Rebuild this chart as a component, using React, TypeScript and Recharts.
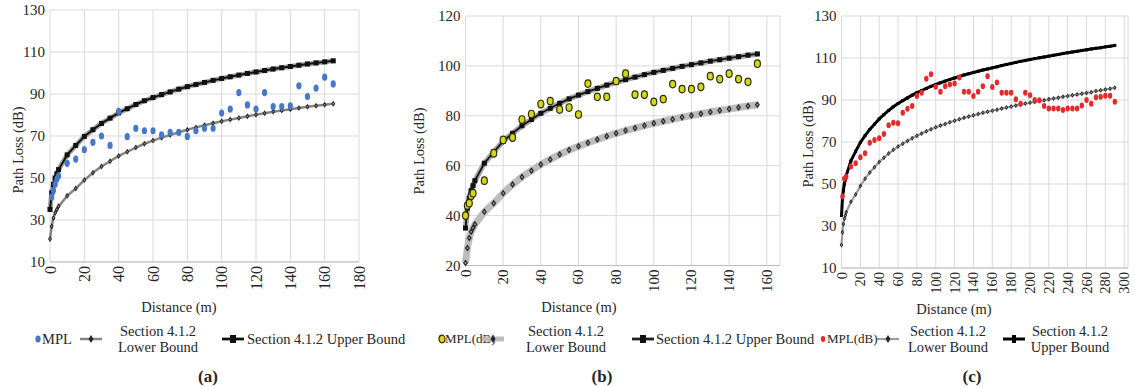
import { CartesianGrid, ComposedChart, Line, Scatter, XAxis, YAxis } from 'recharts'

// distance (m) of every model point, shared by the three panels
const distances = [
  0, 1, 2, 3, 4, 5, 10, 15, 20, 25, 30, 35, 40, 45, 50, 55, 60, 65, 70, 75, 80, 85, 90, 95, 100,
  105, 110, 115, 120, 125, 130, 135, 140, 145, 150, 155, 160, 165, 170, 175, 180, 185, 190, 195,
  200, 205, 210, 215, 220, 225, 230, 235, 240, 245, 250, 255, 260, 265, 270, 275, 280, 285, 290,
]
const upperBound = [
  35, 43, 47, 50, 52, 54, 61, 65.5, 69.8, 73, 76, 78.5, 81, 83, 85, 86.8, 88.3, 89.7, 91, 92.3,
  93.5, 94.5, 95.5, 96.5, 97.4, 98.2, 99, 99.8, 100.5, 101.2, 101.9, 102.5, 103.1, 103.7, 104.3,
  104.8, 105.3, 105.8, 106.4, 106.9, 107.4, 107.9, 108.4, 108.8, 109.3, 109.7, 110.1, 110.5,
  110.9, 111.3, 111.7, 112.1, 112.5, 112.9, 113.2, 113.6, 113.9, 114.3, 114.6, 114.9, 115.3,
  115.6, 116,
]
const lowerBound = [
  21, 27, 31, 33.5, 35, 36.5, 41.5, 45, 49, 52.5, 55.5, 58, 60.5, 62.5, 64.5, 66.3, 67.8, 69.2,
  70.5, 71.8, 73, 74.1, 75.1, 76.1, 77, 77.8, 78.6, 79.4, 80.1, 80.8, 81.5, 82.1, 82.7, 83.3,
  83.9, 84.4, 84.9, 85.4, 85.9, 86.4, 86.9, 87.4, 87.8, 88.3, 88.7, 89.1, 89.5, 89.9, 90.3, 90.7,
  91.1, 91.5, 91.9, 92.3, 92.6, 93, 93.3, 93.7, 94.3, 94.6, 95, 95.4, 95.8,
]

// measured path loss
const mplDistA = [
  1, 2, 3, 4, 5, 10, 15, 20, 25, 30, 35, 40, 45, 50, 55, 60, 65, 70, 75, 80, 85, 90, 95, 100, 105,
  110, 115, 120, 125, 130, 135, 140, 145, 150, 155, 160, 165,
]
const mplA = [
  41, 44, 47, 49.5, 51, 57, 59, 63.5, 67, 70, 65.5, 81.7, 69.7, 73.7, 72.5, 72.5, 70.6, 71.7, 71.7,
  69.8, 72.5, 73.7, 73.7, 80.9, 82.8, 90.7, 84.8, 82.8, 90.7, 84, 84, 84.4, 93.9, 88.8, 92.8, 98,
  94.8,
]
const mplDistB = [
  0, 1, 2, 3, 4, 10, 15, 20, 25, 30, 35, 40, 45, 50, 55, 60, 65, 70, 75, 80, 85, 90, 95, 100, 105,
  110, 115, 120, 125, 130, 135, 140, 145, 150, 155,
]
const mplB = [
  40, 44, 45, 48, 49, 54, 65, 70.3, 71.3, 78.5, 80.7, 84.7, 85.9, 82.5, 83.3, 80.5, 92.9, 87.6,
  87.6, 93.9, 96.9, 88.5, 88.5, 85.6, 86.7, 92.7, 90.7, 90.7, 91.6, 95.9, 94.7, 96.9, 94.7, 93.6,
  100.9,
]
const mplDistC = [
  1, 3, 5, 10, 15, 20, 25, 30, 35, 40, 45, 50, 55, 60, 65, 70, 75, 80, 85, 90, 95, 100, 105, 110,
  115, 120, 125, 130, 135, 140, 145, 150, 155, 160, 165, 170, 175, 180, 185, 190, 195, 200, 205,
  210, 215, 220, 225, 230, 235, 240, 245, 250, 255, 260, 265, 270, 275, 280, 285, 290,
]
const mplC = [
  44, 52.5, 53.5, 58.3, 59.9, 62.7, 64.6, 69.7, 71, 71.8, 73.8, 78, 79.2, 78.9, 83.9, 85.8, 87.1,
  91.9, 93.4, 100.1, 102.3, 96.3, 93.9, 96.6, 97.4, 97.9, 100.7, 93.9, 93.9, 91.9, 93.9, 96.6,
  101.3, 96.2, 98.3, 93.4, 93.4, 93.4, 90.3, 88.2, 93.4, 92.3, 90, 89.9, 87.1, 86, 86, 86, 85.2, 86,
  86, 86, 87.4, 90, 88.2, 91.3, 91.5, 92, 92, 89.2,
]

const ticksA = [0, 20, 40, 60, 80, 100, 120, 140, 160, 180]
const ticksB = [0, 20, 40, 60, 80, 100, 120, 140, 160]
const ticksC = [0, 20, 40, 60, 80, 100, 120, 140, 160, 180, 200, 220, 240, 260, 280, 300]
const yTicksA = [10, 30, 50, 70, 90, 110, 130]
const yTicksB = [20, 40, 60, 80, 100, 120]
const yTicksC = [10, 30, 50, 70, 90, 110, 130]

const boundRows = distances.map((x, i) => ({ x, upper: upperBound[i], lower: lowerBound[i] }))
const toPoints = (xs: number[], ys: number[]) => xs.map((x, i) => ({ x, y: ys[i] }))

const FONT = '"Liberation Serif", "Times New Roman", serif'
const TEXT = '#262626'

type Look = {
  upperColor: string
  upperWidth: number
  glow?: { color: string; width: number }
  square: number
  lowerColor: string
  lowerWidth: number
  diamond: [number, number]
  mpl: { rx: number; ry: number; fill: string; stroke?: string }
}

const lookA: Look = {
  upperColor: '#111',
  upperWidth: 2,
  glow: { color: '#a3a3a3', width: 5 },
  square: 5,
  lowerColor: '#858585',
  lowerWidth: 2.5,
  diamond: [4, 6],
  mpl: { rx: 2.6, ry: 3.6, fill: '#4677c8' },
}
const lookB: Look = {
  upperColor: '#111',
  upperWidth: 1.8,
  glow: { color: '#a8a8a8', width: 5.5 },
  square: 5,
  lowerColor: '#bcbcbc',
  lowerWidth: 7,
  diamond: [5, 7],
  mpl: { rx: 3, ry: 3.8, fill: '#d6d61c', stroke: '#2e2e05' },
}
const lookC: Look = {
  upperColor: '#000',
  upperWidth: 3,
  square: 3,
  lowerColor: '#9c9c9c',
  lowerWidth: 2.2,
  diamond: [3.6, 5],
  mpl: { rx: 2.2, ry: 3, fill: '#e42a2a' },
}

function squareDot(size: number, color: string) {
  return (p: any) => (
    <rect
      key={`sq-${p.index}`}
      x={p.cx - size / 2}
      y={p.cy - size / 2}
      width={size}
      height={size}
      fill={color}
    />
  )
}

function diamondDot(w: number, h: number) {
  return (p: any) => (
    <g key={`dm-${p.index}`}>
      <path
        d={`M${p.cx},${p.cy - h / 2}L${p.cx + w / 2},${p.cy}L${p.cx},${p.cy + h / 2}L${p.cx - w / 2},${p.cy}Z`}
        fill="#262626"
      />
      <circle cx={p.cx} cy={p.cy} r={w / 5} fill="#9a9a9a" />
    </g>
  )
}

function RotatedTick({ x, y, payload, fontSize }: any) {
  return (
    <text
      x={x}
      y={y}
      transform={`rotate(-90 ${x} ${y})`}
      textAnchor="end"
      dominantBaseline="central"
      fontSize={fontSize}
      fill={TEXT}
      fontFamily={FONT}
    >
      {payload.value}
    </text>
  )
}

type PanelProps = {
  left: number
  width: number
  top: number
  yAxisWidth: number
  right: number
  bottom: number
  xMax: number
  xTicks: number[]
  yDomain: [number, number]
  yTicks: number[]
  lastDistance: number
  mpl: { x: number; y: number }[]
  look: Look
  xTickSize: number
}

function Panel(props: PanelProps) {
  const { look } = props
  const height = 320
  const rows = boundRows.filter((r) => r.x <= props.lastDistance)
  return (
    <div style={{ position: 'absolute', left: props.left, top: 0 }}>
      <ComposedChart
        width={props.width}
        height={height}
        data={rows}
        margin={{ top: props.top, right: props.right, left: 0, bottom: 20 }}
      >
        <CartesianGrid stroke="#d9d9d9" />
        <XAxis
          type="number"
          dataKey="x"
          domain={[0, props.xMax]}
          ticks={props.xTicks}
          interval={0}
          height={300 - props.bottom}
          tickSize={0}
          tickMargin={4}
          axisLine={{ stroke: '#bdbdbd' }}
          tick={<RotatedTick fontSize={props.xTickSize} />}
        />
        <YAxis
          type="number"
          domain={props.yDomain}
          ticks={props.yTicks}
          interval={0}
          width={props.yAxisWidth}
          axisLine={false}
          tickLine={false}
          tickSize={0}
          tickMargin={5}
          tick={{ fontSize: 15, fill: TEXT, fontFamily: FONT }}
        />
        <Line
          dataKey="lower"
          stroke={look.lowerColor}
          strokeWidth={look.lowerWidth}
          dot={diamondDot(look.diamond[0], look.diamond[1])}
          isAnimationActive={false}
        />
        {look.glow && (
          <Line
            dataKey="upper"
            stroke={look.glow.color}
            strokeWidth={look.glow.width}
            dot={false}
            isAnimationActive={false}
          />
        )}
        <Line
          dataKey="upper"
          stroke={look.upperColor}
          strokeWidth={look.upperWidth}
          dot={squareDot(look.square, look.upperColor)}
          isAnimationActive={false}
        />
        <Scatter
          data={props.mpl}
          dataKey="y"
          isAnimationActive={false}
          shape={(p: any) => (
            <ellipse
              cx={p.cx}
              cy={p.cy}
              rx={look.mpl.rx}
              ry={look.mpl.ry}
              fill={look.mpl.fill}
              stroke={look.mpl.stroke ?? 'none'}
              strokeWidth={1.2}
            />
          )}
        />
      </ComposedChart>
    </div>
  )
}

function Abs({
  x,
  y,
  children,
  align = 'left',
  size = 14.5,
  bold = false,
  rotate = false,
}: {
  x: number
  y: number
  children: React.ReactNode
  align?: 'left' | 'center'
  size?: number
  bold?: boolean
  rotate?: boolean
}) {
  const tx = rotate || align === 'center' ? '-50%' : '0'
  return (
    <div
      style={{
        position: 'absolute',
        left: x,
        top: y,
        transform: `translate(${tx}, -50%)${rotate ? ' rotate(-90deg)' : ''}`,
        whiteSpace: 'nowrap',
        fontSize: size,
        fontWeight: bold ? 700 : 400,
        lineHeight: '16px',
        textAlign: 'center',
        color: TEXT,
      }}
    >
      {children}
    </div>
  )
}

function LineIcon({ x, y, look, kind }: { x: number; y: number; look: Look; kind: 'upper' | 'lower' }) {
  const w = 22
  return (
    <svg style={{ position: 'absolute', left: x, top: y - 6 }} width={w} height={12}>
      {kind === 'lower' ? (
        <>
          <line x1={0} y1={6} x2={w} y2={6} stroke={look.lowerColor} strokeWidth={Math.min(look.lowerWidth, 5)} />
          <path d={`M11,2L13.5,6L11,10L8.5,6Z`} fill="#262626" />
        </>
      ) : (
        <>
          {look.glow && <line x1={0} y1={6} x2={w} y2={6} stroke={look.glow.color} strokeWidth={4} />}
          <line x1={0} y1={6} x2={w} y2={6} stroke={look.upperColor} strokeWidth={look.upperWidth} />
          <rect x={11 - look.square / 2 - 0.5} y={6 - 4} width={look.square + 1} height={8} fill={look.upperColor} />
        </>
      )}
    </svg>
  )
}

function Dot({ x, y, look }: { x: number; y: number; look: Look }) {
  return (
    <svg style={{ position: 'absolute', left: x - 4, top: y - 5 }} width={8} height={10}>
      <ellipse
        cx={4}
        cy={5}
        rx={look.mpl.rx}
        ry={look.mpl.ry}
        fill={look.mpl.fill}
        stroke={look.mpl.stroke ?? 'none'}
        strokeWidth={1.2}
      />
    </svg>
  )
}

export default function App() {
  const legendY = 339
  return (
    <div
      style={{
        position: 'relative',
        width: 1135,
        height: 387,
        background: '#fff',
        fontFamily: FONT,
        overflow: 'hidden',
      }}
    >
      <style>{'body{margin:0}'}</style>

      <Panel
        left={0}
        width={380}
        top={10}
        yAxisWidth={50}
        right={21}
        bottom={262}
        xMax={180}
        xTicks={ticksA}
        yDomain={[10, 130]}
        yTicks={yTicksA}
        lastDistance={165}
        mpl={toPoints(mplDistA, mplA)}
        look={lookA}
        xTickSize={16}
      />
      <Panel
        left={380}
        width={420}
        top={16}
        yAxisWidth={85.5}
        right={20}
        bottom={265.5}
        xMax={167}
        xTicks={ticksB}
        yDomain={[20, 120]}
        yTicks={yTicksB}
        lastDistance={155}
        mpl={toPoints(mplDistB, mplB)}
        look={lookB}
        xTickSize={15}
      />
      <Panel
        left={800}
        width={335}
        top={16}
        yAxisWidth={41.5}
        right={7}
        bottom={268}
        xMax={304}
        xTicks={ticksC}
        yDomain={[10, 130]}
        yTicks={yTicksC}
        lastDistance={290}
        mpl={toPoints(mplDistC, mplC)}
        look={lookC}
        xTickSize={14.5}
      />

      <Abs x={18} y={150} rotate>
        Path Loss (dB)
      </Abs>
      <Abs x={419} y={151} rotate>
        Path Loss (dB)
      </Abs>
      <Abs x={808} y={144} rotate>
        Path Loss (dB)
      </Abs>

      <Abs x={179} y={307} align="center">
        Distance (m)
      </Abs>
      <Abs x={579} y={307} align="center">
        Distance (m)
      </Abs>
      <Abs x={954} y={309} align="center">
        Distance (m)
      </Abs>

      {/* legend (a) */}
      <Dot x={38} y={legendY} look={lookA} />
      <Abs x={42} y={legendY}>MPL</Abs>
      <LineIcon x={80} y={legendY} look={lookA} kind="lower" />
      <Abs x={158} y={legendY} align="center">
        Section 4.1.2
        <br />
        Lower Bound
      </Abs>
      <LineIcon x={222} y={legendY} look={lookA} kind="upper" />
      <Abs x={247} y={legendY}>Section 4.1.2 Upper Bound</Abs>

      {/* legend (b) */}
      <Dot x={442} y={legendY} look={lookB} />
      <Abs x={445} y={legendY} size={13}>
        MPL(dB)
      </Abs>
      <LineIcon x={482} y={legendY} look={lookB} kind="lower" />
      <Abs x={566} y={legendY} align="center">
        Section 4.1.2
        <br />
        Lower Bound
      </Abs>
      <LineIcon x={632} y={legendY} look={lookB} kind="upper" />
      <Abs x={656} y={legendY}>Section 4.1.2 Upper Bound</Abs>

      {/* legend (c) */}
      <Dot x={823} y={legendY} look={lookC} />
      <Abs x={827} y={legendY} size={13}>
        MPL(dB)
      </Abs>
      <LineIcon x={877} y={legendY} look={lookC} kind="lower" />
      <Abs x={948} y={legendY} align="center">
        Section 4.1.2
        <br />
        Lower Bound
      </Abs>
      <LineIcon x={1003} y={legendY} look={lookC} kind="upper" />
      <Abs x={1070} y={legendY} align="center">
        Section 4.1.2
        <br />
        Upper Bound
      </Abs>

      <Abs x={208} y={377} align="center" size={17} bold>
        (a)
      </Abs>
      <Abs x={602} y={377} align="center" size={17} bold>
        (b)
      </Abs>
      <Abs x={972} y={377} align="center" size={17} bold>
        (c)
      </Abs>
    </div>
  )
}
